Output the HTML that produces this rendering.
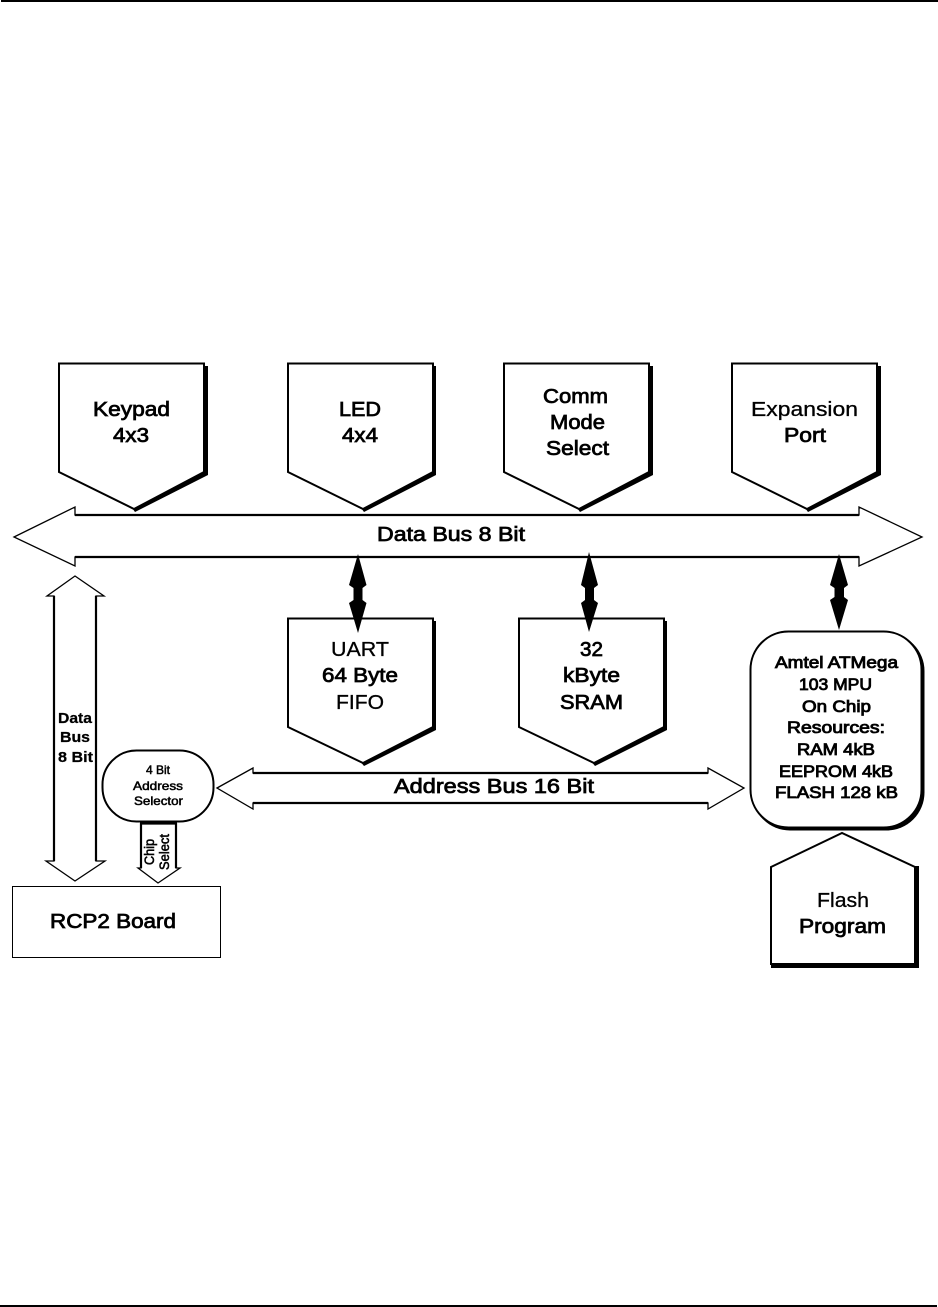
<!DOCTYPE html>
<html><head><meta charset="utf-8"><title>Block diagram</title>
<style>
html,body{margin:0;padding:0;background:#fff;width:938px;height:1307px;overflow:hidden}
svg{display:block}
text{font-family:"Liberation Sans",Arial,sans-serif;fill:#000;stroke:#000}
.a{font-size:20px;stroke-width:.75px}
.a .l{stroke-width:.3px}
.b{font-size:16.5px;stroke-width:.85px}
.c{font-size:15px;font-weight:bold;stroke-width:.25px}
.d{font-size:12px;stroke-width:.5px}
.e{font-size:13.5px;stroke-width:.55px}
.o{fill:#fff;stroke:#000;stroke-width:2;stroke-linejoin:miter}
.h{fill:#fff;stroke:#000;stroke-width:1.3;stroke-linejoin:miter}
.k{fill:none;stroke:#000;stroke-width:2.2}
.s{fill:#000;stroke:none}
</style></head><body>
<svg width="938" height="1307" viewBox="0 0 938 1307" xmlns="http://www.w3.org/2000/svg">
<rect x="0" y="0" width="938" height="1307" fill="#fff"/>
<rect x="1" y="0" width="937" height="2" fill="#000"/>
<rect x="0" y="1305" width="937" height="2" fill="#000"/>

<!-- Shadows -->
<path class="s" d="M63 366H208V475L135 512L130 505Z"/>
<path class="s" d="M292 366H436V475L364 512L359 505Z"/>
<path class="s" d="M508 366H653V475L580 512L575 505Z"/>
<path class="s" d="M736 366H881V475L808 512L803 505Z"/>
<path class="s" d="M292 621H436V730L364 766L359 760Z"/>
<path class="s" d="M523 621H667V730L595 766L590 760Z"/>
<path class="s" d="M775 870L915 866H919V968H771V964Z"/>

<!-- Top pentagons -->
<path class="o" d="M59 363.500H204V472L134 509L59 472Z"/>
<path class="o" d="M288 363.500H433V472L363 509L288 472Z"/>
<path class="o" d="M504 363.500H649V472L579 509L504 472Z"/>
<path class="o" d="M732 363.500H877V472L807 509L732 472Z"/>

<!-- Data bus -->
<path class="h" d="M14 537L75 507V515H859V507L922 537L859 566V557H75V566Z"/>
<path class="k" d="M75 515H859M75 557H859"/>

<!-- Middle pentagons -->
<path class="o" d="M288 618.500H433V727L363 763L288 727Z"/>
<path class="o" d="M519 618.500H664V727L594 763L519 727Z"/>

<!-- Black arrows -->
<path class="s" d="M358 554L366.500 585L362.500 588V600L366.500 603L358 633L349 603L353.500 600V588L349 585Z"/>
<path class="s" d="M589 552L598 585L594 588V600L598 603L589 632L581 603L585 600V588L581 585Z"/>
<path class="s" d="M839 554L848 585L844 588V597L848 600L839 630L830 600L834.500 597V588L830 585Z"/>

<!-- MPU -->
<rect x="752" y="633" width="172.500" height="197.500" rx="38" ry="38" fill="#000"/>
<rect x="750.500" y="631.500" width="171" height="196" rx="38" ry="38" class="o"/>

<!-- Flash -->
<path class="o" d="M771 867L842 833L915 867V964H771Z"/>

<!-- Vertical data bus -->
<path class="h" d="M75 576L104 596H96V861H105L75 881L46 861H54V596H47Z"/>
<path class="k" d="M54 596V861M96 596V861"/>

<!-- Address selector -->
<rect x="102.500" y="750.500" width="111" height="71" rx="34" ry="34" class="o"/>

<!-- Chip select -->
<path class="h" d="M141 823H176V868H180L158 883L138 868H141Z"/>
<path class="k" d="M141 823V868M176 823V868M140 823.500H177"/>

<!-- RCP2 -->
<rect x="12.500" y="886.500" width="208" height="71" fill="#fff" stroke="#000" stroke-width="1"/>

<!-- Address bus -->
<path class="h" d="M217 788L253 768V773H708V768L744 788L708 809V803H253V809Z"/>
<path class="k" d="M253 773H708M253 803H708"/>

<!-- Labels -->
<g class="a">
<text x="93" y="416" textLength="77" lengthAdjust="spacingAndGlyphs">Keypad</text>
<text x="113" y="442" textLength="36" lengthAdjust="spacingAndGlyphs">4x3</text>
<text x="339" y="416" textLength="42" lengthAdjust="spacingAndGlyphs">LED</text>
<text x="342" y="442" textLength="36" lengthAdjust="spacingAndGlyphs">4x4</text>
<text x="543" y="403" textLength="65" lengthAdjust="spacingAndGlyphs">Comm</text>
<text x="550" y="429" textLength="55" lengthAdjust="spacingAndGlyphs">Mode</text>
<text x="546" y="455" textLength="63" lengthAdjust="spacingAndGlyphs">Select</text>
<text class="l" x="751" y="416" textLength="107" lengthAdjust="spacingAndGlyphs">Expansion</text>
<text x="784" y="442" textLength="42" lengthAdjust="spacingAndGlyphs">Port</text>
<text x="377" y="541" textLength="148" lengthAdjust="spacingAndGlyphs">Data Bus 8 Bit</text>
<text class="l" x="331" y="656" textLength="58" lengthAdjust="spacingAndGlyphs">UART</text>
<text x="322" y="682" textLength="76" lengthAdjust="spacingAndGlyphs">64 Byte</text>
<text class="l" x="336" y="709" textLength="48" lengthAdjust="spacingAndGlyphs">FIFO</text>
<text x="580" y="656" textLength="23" lengthAdjust="spacingAndGlyphs">32</text>
<text x="563" y="682" textLength="57" lengthAdjust="spacingAndGlyphs">kByte</text>
<text x="560" y="709" textLength="63" lengthAdjust="spacingAndGlyphs">SRAM</text>
<text x="394" y="793" textLength="200" lengthAdjust="spacingAndGlyphs">Address Bus 16 Bit</text>
<text x="50" y="928" textLength="126" lengthAdjust="spacingAndGlyphs">RCP2 Board</text>
<text class="l" x="817" y="907" textLength="52" lengthAdjust="spacingAndGlyphs">Flash</text>
<text x="799" y="933" textLength="87" lengthAdjust="spacingAndGlyphs">Program</text>
</g>
<g class="b">
<text x="775" y="668" textLength="123" lengthAdjust="spacingAndGlyphs">Amtel ATMega</text>
<text x="799" y="690" textLength="73" lengthAdjust="spacingAndGlyphs">103 MPU</text>
<text x="802" y="712" textLength="69" lengthAdjust="spacingAndGlyphs">On Chip</text>
<text x="787" y="733" textLength="98" lengthAdjust="spacingAndGlyphs">Resources:</text>
<text x="797" y="755" textLength="78" lengthAdjust="spacingAndGlyphs">RAM 4kB</text>
<text x="779" y="777" textLength="114" lengthAdjust="spacingAndGlyphs">EEPROM 4kB</text>
<text x="775" y="798" textLength="123" lengthAdjust="spacingAndGlyphs">FLASH  128 kB</text>
</g>
<g class="c">
<text x="58" y="723" textLength="34" lengthAdjust="spacingAndGlyphs">Data</text>
<text x="60" y="742" textLength="30" lengthAdjust="spacingAndGlyphs">Bus</text>
<text x="58" y="762" textLength="35" lengthAdjust="spacingAndGlyphs">8 Bit</text>
</g>
<g class="d">
<text x="146" y="774" textLength="24" lengthAdjust="spacingAndGlyphs">4 Bit</text>
<text x="133" y="790" textLength="50" lengthAdjust="spacingAndGlyphs">Address</text>
<text x="134" y="805" textLength="49" lengthAdjust="spacingAndGlyphs">Selector</text>
</g>
<g class="e">
<text transform="translate(154 865) rotate(-90)" textLength="26" lengthAdjust="spacingAndGlyphs">Chip</text>
<text transform="translate(169 870) rotate(-90)" textLength="36" lengthAdjust="spacingAndGlyphs">Select</text>
</g>
</svg>
</body></html>
